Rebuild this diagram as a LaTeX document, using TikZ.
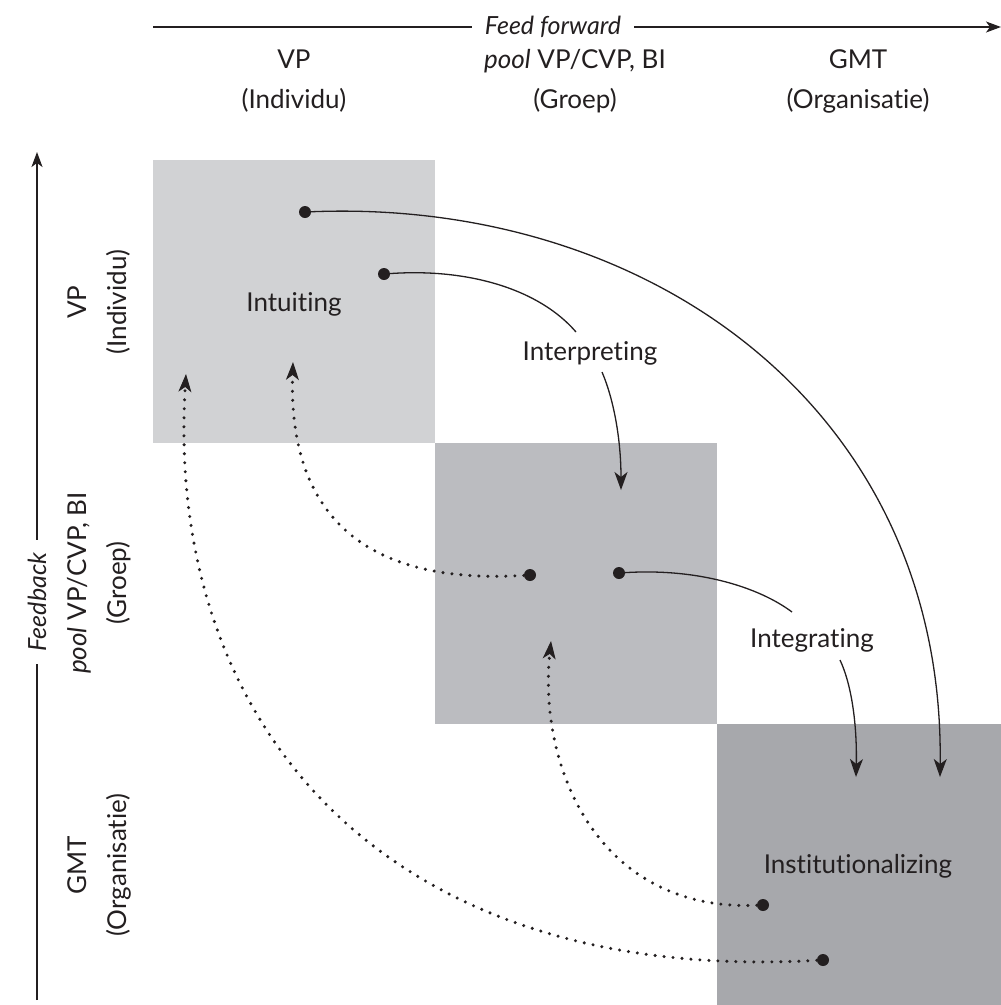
\documentclass[tikz,border=0pt]{standalone}
\usepackage{fontspec}
\setmainfont{Lato}[Ligatures=NoCommon]
\usetikzlibrary{arrows.meta}
\definecolor{boxA}{HTML}{D1D2D4}
\definecolor{boxB}{HTML}{BBBCC0}
\definecolor{boxC}{HTML}{A7A8AC}
\definecolor{ink}{HTML}{231F20}
\tikzset{
  lbl/.style={font=\fontsize{26}{40}\selectfont, text=ink, inner sep=2pt, align=center},
  axlbl/.style={font=\fontsize{25}{30}\selectfont\itshape, text=ink, inner sep=0pt, outer sep=13pt},
  dotpt/.style={circle, fill=ink, inner sep=0pt, minimum size=12pt},
  fwd/.style={draw=ink, line width=1.3pt, -{Stealth[length=18pt,width=13pt,inset=5pt]}},
  plain/.style={draw=ink, line width=1.3pt},
  back/.style={draw=ink, line width=3.4pt, line cap=round, dash pattern=on 0pt off 9pt,
    -{Stealth[length=18pt,width=13pt,inset=5pt,line width=1pt]}},
  axis/.style={draw=ink, line width=1.3pt},
}
\begin{document}
\begin{tikzpicture}[x=1pt,y=-1pt]
\useasboundingbox (0,0) rectangle (1001,1005);
% the three stages
\fill[boxA] (153,160) rectangle (435,443);
\fill[boxB] (435,443) rectangle (717,724);
\fill[boxC] (717,724) rectangle (1001,1005);

% feed-forward axis
\node[axlbl] (ff) at (553,27) {Feed forward};
\coordinate (ffL) at (153,27);
\coordinate (ffR) at (1001,27);
\draw[axis] (ffL) -- (ff.west);
\draw[axis, -{Stealth[length=15pt,width=11pt,inset=4pt]}] (ff.east) -- (ffR);

% feedback axis
\node[axlbl, rotate=90] (fb) at (37,602) {Feedback};
\coordinate (fbB) at (37,1000);
\coordinate (fbT) at (37,152);
\draw[axis] (fbB) -- (fb.west);
\draw[axis, -{Stealth[length=15pt,width=11pt,inset=4pt]}] (fb.east) -- (fbT);

% column headings
\node[lbl] (c1) at (294,81) {VP\\(Individu)};
\node[lbl] (c2) at (575,81) {\textit{pool} VP/CVP, BI\\(Groep)};
\node[lbl] (c3) at (858,81) {GMT\\(Organisatie)};

% row headings
\node[lbl, rotate=90] (r1) at (99,302) {VP\\(Individu)};
\node[lbl, rotate=90] (r2) at (99,583) {\textit{pool} VP/CVP, BI\\(Groep)};
\node[lbl, rotate=90] (r3) at (99,865) {GMT\\(Organisatie)};

% stage labels
\node[lbl] (intu) at (294,304) {Intuiting};
\node[lbl] (inte) at (590,353) {Interpreting};
\node[lbl] (intg) at (812,640) {Integrating};
\node[lbl] (inst) at (858,866) {Institutionalizing};

% source points
\node[dotpt] (d1) at (305,212) {};
\node[dotpt] (d2) at (384,274) {};
\node[dotpt] (d3) at (619,573) {};
\node[dotpt] (d4) at (530,575) {};
\node[dotpt] (d5) at (763,905) {};
\node[dotpt] (d6) at (823,960) {};

% arrow ends
\coordinate (e1) at (940,777);
\coordinate (e2) at (621,490);
\coordinate (e3) at (856,777);
\coordinate (e4) at (293,362);
\coordinate (e5) at (551,641);
\coordinate (e6) at (186,374);
\coordinate (i2a) at (576,332);
\coordinate (i2b) at (602,372);
\coordinate (i3a) at (792,612);
\coordinate (i3b) at (840,660);

% feed-forward flows
\draw[fwd] (d1) .. controls (650,198) and (945,410) .. (e1);
\draw[plain] (d2) .. controls (470,268) and (540,290) .. (i2a);
\draw[fwd] (i2b) .. controls (614,400) and (621,440) .. (e2);
\draw[plain] (d3) .. controls (700,568) and (760,588) .. (i3a);
\draw[fwd] (i3b) .. controls (854,690) and (857,735) .. (e3);

% feedback flows
\draw[back] (d4) .. controls (370,585) and (288,520) .. (e4);
\draw[back] (d5) .. controls (600,912) and (538,770) .. (e5);
\draw[back] (d6) .. controls (380,985) and (165,720) .. (e6);
\end{tikzpicture}
\end{document}
